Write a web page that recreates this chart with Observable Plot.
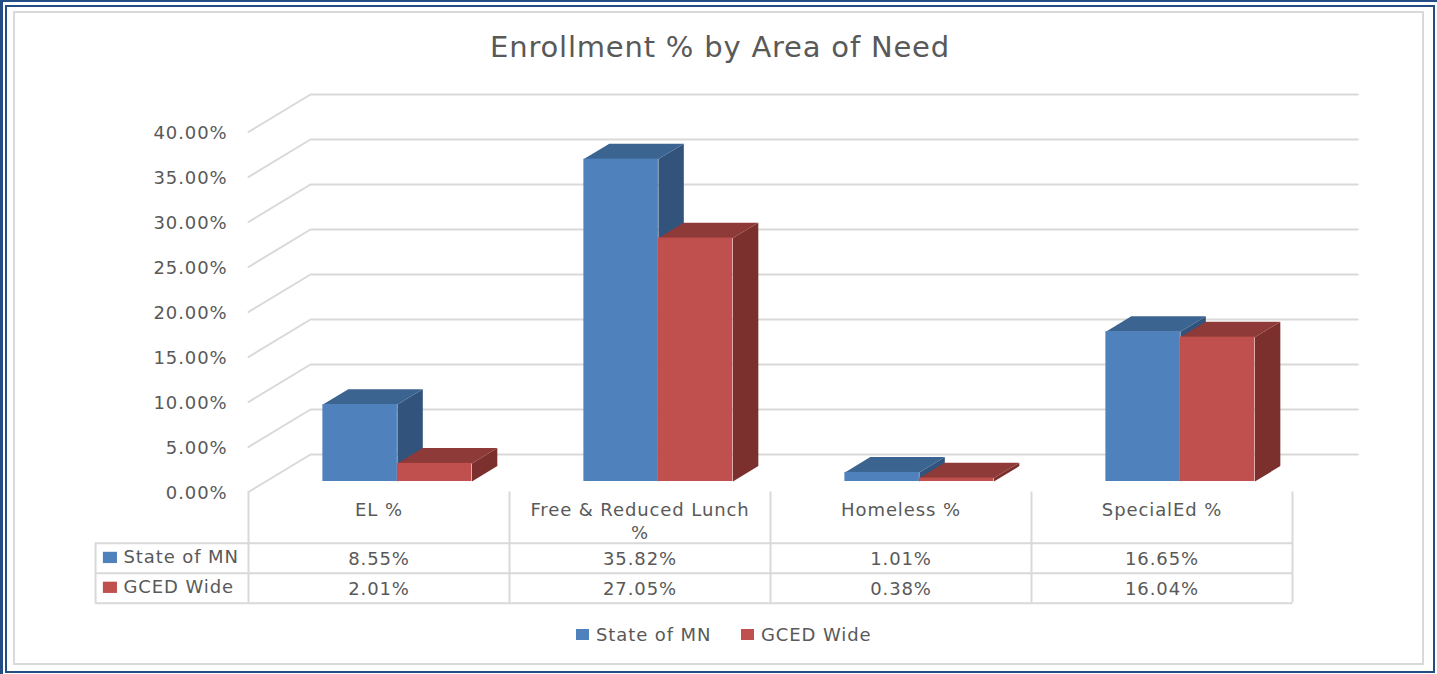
<!DOCTYPE html>
<html>
<head>
<meta charset="utf-8">
<script src="https://cdn.jsdelivr.net/npm/d3@7"></script>
<script src="https://cdn.jsdelivr.net/npm/@observablehq/plot@0.6"></script>
<style>
html,body{margin:0;padding:0;background:#fff;overflow:hidden}
#page{position:relative;width:1437px;height:674px;font-family:"DejaVu Sans",sans-serif;color:#595959;box-sizing:border-box}
.bar{position:absolute;background:#234e85}
#inner{position:absolute;left:5px;top:5px;width:1430px;height:668px;box-sizing:border-box;border:2px solid #234e85}
#frame{position:absolute;left:13px;top:11px;width:1411px;height:654px;box-sizing:border-box;border:2.5px solid #d9d9d9}
#title{position:absolute;left:3px;right:0;top:0;height:80px;padding-top:29px;box-sizing:border-box;text-align:center;font-size:29px;line-height:36px;letter-spacing:.8px;white-space:nowrap}
#chart{position:absolute;left:0;top:80px;width:1437px;height:540px}
#chart svg{display:block;overflow:visible}
#legend{position:absolute;left:0;top:620px;width:1437px;height:30px;font-size:18px;letter-spacing:.9px}
#legend span{position:absolute;top:3px;line-height:24px;white-space:nowrap}
#legend i{position:absolute;top:9px;width:13px;height:11px}
</style>
</head>
<body>
<div id="page">
  <div class="bar" style="left:0;top:0;width:1437px;height:2px"></div>
  <div class="bar" style="left:0;top:0;width:2.5px;height:674px"></div>
  <div id="inner"></div>
  <div id="frame"></div>
  <div id="title">Enrollment % by Area of Need</div>
  <div id="chart"></div>
  <div id="legend"></div>
</div>
<script>
const categories = ["EL %", "Free & Reduced Lunch\n%", "Homeless %", "SpecialEd %"];
const seriesNames = ["State of MN", "GCED Wide"];
const stateOfMN = [8.55, 35.82, 1.01, 16.65];
const gcedWide = [2.01, 27.05, 0.38, 16.04];
const yTicks = [0, 5, 10, 15, 20, 25, 30, 35, 40];
const frontColors = ["#4f81bd", "#c0504d"];
const topColors = ["#3b6491", "#8e3a38"];
const sideColors = ["#32537c", "#7b302e"];

const pct = v => v.toFixed(2) + "%";
const seriesValues = [stateOfMN, gcedWide];

// oblique projection: depth d moves a point right and up, in data units
const depthX = 0.2375, depthY = 4.167;
const barFront = 0.28, barBack = 0.69, barWidth = 0.2855, barStart = 0.2185;
const px = (x, d) => x + d * depthX;
const py = (y, d) => y + d * depthY;

// bars
const bars = [];
categories.forEach((c, i) => seriesNames.forEach((s, k) => {
  const x1 = i + barStart + k * barWidth, x2 = x1 + barWidth;
  bars.push({id: i, k, x1: px(x1, barFront), x2: px(x2, barFront), x3: px(x1, barBack), x4: px(x2, barBack),
             base: py(0, barFront), value: py(seriesValues[k][i], barFront), valueBack: py(seriesValues[k][i], barBack), baseBack: py(0, barBack)});
}));
const topFace = b => [[b.x1,b.value],[b.x2,b.value],[b.x4,b.valueBack],[b.x3,b.valueBack]].map(([x,y]) => ({x,y,id:b.id}));
const sideFace = b => [[b.x2,b.base],[b.x2,b.value],[b.x4,b.valueBack],[b.x4,b.baseBack]].map(([x,y]) => ({x,y,id:b.id}));

const barMarks = [0, 1].flatMap(k => {
  const bs = bars.filter(b => b.k === k);
  return [
    Plot.line(bs.flatMap(sideFace), {x:"x", y:"y", z:"id", fill:sideColors[k], stroke:"none", curve:"linear"}),
    Plot.line(bs.flatMap(topFace), {x:"x", y:"y", z:"id", fill:topColors[k], stroke:"none", curve:"linear"}),
    Plot.rect(bs, {x1:"x1", x2:"x2", y1:"base", y2:"value", fill:frontColors[k]})
  ];
});

// walls
const grid = yTicks.flatMap(v => [
  {x: 0, y: v, v}, {x: px(0, 1), y: py(v, 1), v}, {x: 4.25, y: py(v, 1), v}
]);

// data table, in plot units below the zero line
const tableLeft = -0.586, rowTops = [-5.7, -9.02, -12.35];
const colLines = [0, 1, 2, 3, 4];
const catRows = categories.map((c, i) => ({x: i + 0.5, c}));
const valueRows = seriesNames.flatMap((s, k) => seriesValues[k].map((v, i) => ({x: i + 0.5, y: rowTops[k] - 1.78, t: pct(v)})));
const nameRows = seriesNames.map((s, k) => ({x: tableLeft + 0.107, y: rowTops[k] - 1.6, s}));
const swatches = seriesNames.map((s, k) => ({s, k, y1: rowTops[k] - 1.0, y2: rowTops[k] - 2.25}));

const lineColor = "#d9d9d9";
const chart = Plot.plot({
  width: 1437, height: 540,
  marginLeft: 248, marginRight: 145, marginTop: 51.5, marginBottom: 128.5,
  x: {domain: [0, 4], axis: null},
  y: {domain: [0, 40], axis: null},
  style: {fontFamily: '"DejaVu Sans",sans-serif', fontSize: "18px", color: "#595959", letterSpacing: ".9px", background: "transparent"},
  marks: [
    Plot.line(grid, {x:"x", y:"y", z:"v", stroke:lineColor, strokeWidth:2, curve:"linear"}),
    ...barMarks,
    Plot.axisY({ticks: yTicks, tickFormat: pct, tickSize: 0, tickPadding: 21, label: null, fontSize: 18, dy: 1}),
    Plot.ruleX(colLines, {x: d => d, y1: 0, y2: rowTops[2], stroke: lineColor, strokeWidth: 2}),
    Plot.ruleX([tableLeft], {x: d => d, y1: rowTops[0], y2: rowTops[2], stroke: lineColor, strokeWidth: 2}),
    Plot.ruleY(rowTops, {y: d => d, x1: tableLeft, x2: 4, stroke: lineColor, strokeWidth: 2}),
    Plot.text(catRows, {x:"x", y:-0.9, text:"c", lineAnchor:"top", lineHeight:1.28, fontSize:18}),
    Plot.text(valueRows, {x:"x", y:"y", text:"t", fontSize:18}),
    Plot.text(nameRows, {x:"x", y:"y", text:"s", textAnchor:"start", fontSize:18}),
    Plot.rect(swatches, {x1: tableLeft + 0.03, x2: tableLeft + 0.084, y1:"y1", y2:"y2", fill: d => frontColors[d.k]})
  ]
});
document.getElementById("chart").appendChild(chart);

const legendPos = [[576, 596], [741, 761]];
const legend = document.getElementById("legend");
seriesNames.forEach((s, k) => {
  const sw = document.createElement("i");
  sw.style.left = legendPos[k][0] + "px";
  sw.style.background = frontColors[k];
  const t = document.createElement("span");
  t.style.left = legendPos[k][1] + "px";
  t.textContent = s;
  legend.append(sw, t);
});
</script>
</body>
</html>
